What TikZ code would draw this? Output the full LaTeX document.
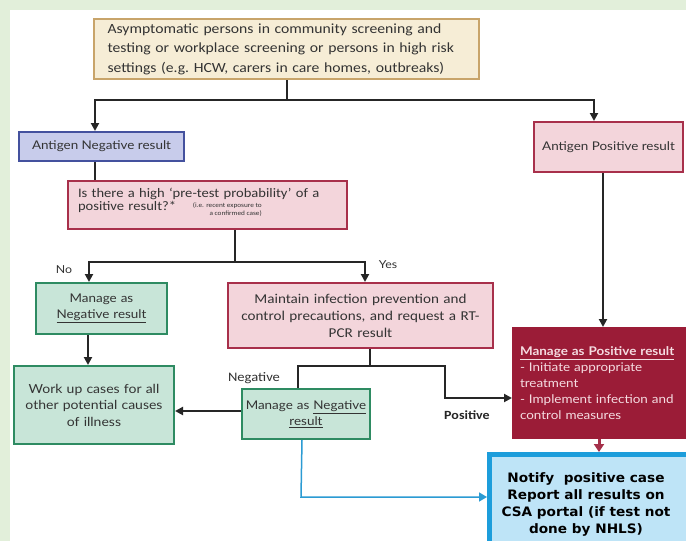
\documentclass[tikz,border=0pt]{standalone}
\usepackage{fontspec}
\setmainfont{Carlito}[FakeStretch=1.12]
\newfontfamily\lato{Lato}[FakeStretch=1.12]
\newfontfamily\dvs{DejaVu Sans}[FakeStretch=1.05]
\usetikzlibrary{arrows.meta,calc}
\definecolor{bggreen}{HTML}{E2EFDA}
\definecolor{txt}{HTML}{333333}
\definecolor{beigefill}{HTML}{F6EDD6}
\definecolor{beigedraw}{HTML}{C8A46A}
\definecolor{lavfill}{HTML}{C8CCEB}
\definecolor{lavdraw}{HTML}{44519E}
\definecolor{pinkfill}{HTML}{F3D5DB}
\definecolor{pinkdraw}{HTML}{A8304B}
\definecolor{mintfill}{HTML}{C8E5D8}
\definecolor{mintdraw}{HTML}{2E8B62}
\definecolor{wine}{HTML}{9B1C37}
\definecolor{winetxt}{HTML}{F5DCE1}
\definecolor{skyfill}{HTML}{BEE4F7}
\definecolor{skydraw}{HTML}{1C9DDB}
\definecolor{blueline}{HTML}{2B9BD3}
\definecolor{winearrow}{HTML}{A5304A}
\tikzset{
  box/.style={draw, line width=2pt, anchor=north west, inner xsep=0pt, inner ysep=0pt, text=txt},
  pinkbox/.style={box, fill=pinkfill, draw=pinkdraw},
  mintbox/.style={box, fill=mintfill, draw=mintdraw, align=center, font=\lato\fontsize{12}{15.5}\selectfont},
  conn/.style={draw=black!85, line width=2pt},
  arr/.style={conn, -{Triangle[length=8pt,width=8pt]}},
  winearr/.style={draw=winearrow, line width=3pt, -{Triangle[length=8pt,width=10pt]}},
  bluearr/.style={draw=blueline, line width=1.5pt, -{Triangle[length=8pt,width=9pt]}},
  lbl/.style={text=txt, inner sep=0pt},
}
\begin{document}
\begin{tikzpicture}[x=1pt,y=-1pt]
\clip (0,0) rectangle (686,541);
\fill[bggreen] (0,0) rectangle (686,541);
\fill[white] (10,10) rectangle (686,541);

% boxes
\node[box, fill=beigefill, draw=beigedraw, minimum width=385pt, minimum height=60pt,
      text width=358pt, align=left, font=\fontsize{14}{19.5}\selectfont] (top) at (93,18)
  {Asymptomatic persons in community screening and\\ testing or workplace screening or persons in high risk\\ settings (e.g.\ HCW, carers in care homes, outbreaks)};

\node[box, fill=lavfill, draw=lavdraw, minimum width=165pt, minimum height=29pt,
      font=\lato\fontsize{12}{14}\selectfont] (aneg) at (18,131) {Antigen Negative result};

\node[pinkbox, minimum width=149pt, minimum height=50pt,
      font=\lato\fontsize{12}{14}\selectfont] (apos) at (533,121) {Antigen Positive result};

\node[pinkbox, minimum width=279pt, minimum height=48pt, text width=259pt, align=left,
      font=\fontsize{13}{13}\selectfont] (isthere) at (67,180)
  {Is there a high `pre-test probability' of a\\ positive result?*\rule[-12pt]{0pt}{12pt}};
\node[anchor=north east, align=right, inner sep=0pt, text=txt, font=\fontsize{6.5}{8}\selectfont] (small) at (262,203)
  {(i.e. recent exposure to\\ a confirmed case)};

\node[mintbox, minimum width=131pt, minimum height=51pt, text width=125pt] (mneg1) at (35,282)
  {Manage as\\ \underline{Negative result}};

\node[pinkbox, minimum width=265pt, minimum height=65pt, text width=257pt, align=center,
      font=\fontsize{13.5}{17}\selectfont] (maintain) at (227,282)
  {Maintain infection prevention and\\ control precautions, and request a RT-\\ PCR result};

\node[mintbox, minimum width=160pt, minimum height=78pt, text width=154pt, font=\lato\fontsize{12.5}{16.5}\selectfont] (workup) at (13,365)
  {Work up cases for all\\ other potential causes\\ of illness};

\node[mintbox, minimum width=128pt, minimum height=50pt, text width=127pt, font=\lato\fontsize{12}{16}\selectfont] (mneg2) at (241,388)
  {Manage as \underline{Negative}\\ \underline{result}};

\node[box, fill=wine, draw=wine, minimum width=180pt, minimum height=110pt, text width=166pt,
      align=left, text=winetxt, font=\lato\fontsize{12}{16}\selectfont] (mpos) at (512,327)
  {\underline{\textbf{Manage as Positive result}}\\ - Initiate appropriate\\ treatment\\ - Implement infection and\\ control measures};

\node[box, fill=skyfill, draw=skydraw, line width=5pt, minimum width=212pt, minimum height=104pt] (notify) at (487,452) {};
\node[font=\dvs\bfseries\fontsize{13}{17}\selectfont, align=center, text=black, inner sep=0pt] (notifytxt) at (586,504)
  {Notify\ \ positive case\\ Report all results on\\ CSA portal (if test not\\ done by NHLS)};

% junctions
\coordinate (j1) at (287,100);
\coordinate (j2) at (235,262);
\coordinate (j3) at (370,366);
\coordinate (j4) at (445,398);
\coordinate (j6) at (301,497);

% connectors
\draw[conn] (top.south -| j1) -- (j1);
\draw[arr] (j1) -| ([xshift=-6.5pt]aneg.north);
\draw[arr] (j1) -| ([xshift=-14.5pt]apos.north);
\draw[conn] ([xshift=-6.5pt]aneg.south) -- ([xshift=-6.5pt]aneg.south |- isthere.north);
\draw[conn] (isthere.south -| j2) -- (j2);
\draw[arr] (j2) -| ([xshift=-12.5pt]mneg1.north);
\draw[arr] (j2) -| ([xshift=4.5pt]maintain.north);
\draw[arr] ([xshift=-13.5pt]mneg1.south) -- ([xshift=-13.5pt]mneg1.south |- workup.north);
\draw[conn] (maintain.south -| j3) -- (j3);
\draw[conn] (j3) -| ([xshift=-8pt]mneg2.north);
\draw[arr] (j3) -| (j4) -- (j4 -| mpos.west);
\draw[arr] ([yshift=3pt]mneg2.west) -- ([yshift=3pt]mneg2.west -| workup.east);
\draw[arr] ([xshift=-5.5pt]apos.south) -- ([xshift=-5.5pt]apos.south |- mpos.north);
\draw[winearr] ([xshift=-4pt]mpos.south) -- ([xshift=-4pt]mpos.south |- notify.north);
\draw[bluearr] ([xshift=-4pt]mneg2.south) -- (j6) -- (j6 -| notify.west);

% labels
\node[lbl, font=\lato\fontsize{11}{13}\selectfont] (lno) at (64,270) {No};
\node[lbl, font=\lato\fontsize{11}{13}\selectfont] (lyes) at (388,265) {Yes};
\node[lbl, font=\fontsize{13}{15}\selectfont] (lneg) at (254,378) {Negative};
\node[lbl, font=\bfseries\fontsize{12.5}{15}\selectfont, text=black!85] (lpos) at (467,415) {Positive};
\end{tikzpicture}
\end{document}
